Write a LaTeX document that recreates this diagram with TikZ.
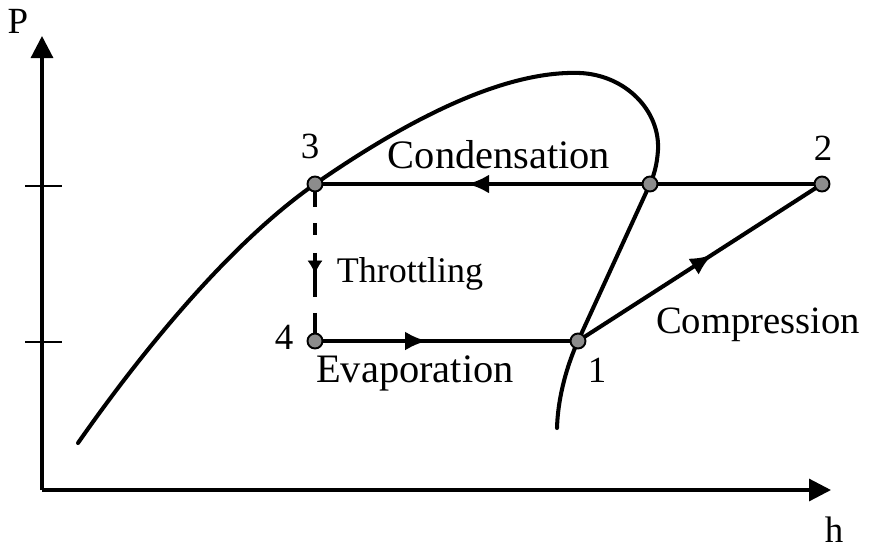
\documentclass[tikz,border=0pt]{standalone}
\usepackage{fontspec}
\setmainfont{Liberation Serif}
\usetikzlibrary{arrows.meta,decorations.markings,backgrounds}
\begin{document}
\begin{tikzpicture}[x=0.02cm,y=-0.02cm,
  curve/.style={line width=2.3pt, line cap=round, line join=round},
  axisline/.style={line width=1.8pt, -{Triangle[length=0.44cm,width=0.44cm]}},
  tickline/.style={line width=1.5pt},
  pt/.style={circle, draw=black, fill=black!45, line width=1.1pt, minimum size=0.3cm, inner sep=0pt},
  lbl/.style={font=\fontsize{21}{25}\selectfont, anchor=base, inner sep=0pt},
  midarrow/.style={postaction={decorate}, decoration={markings, mark=at position #1 with {\arrow{Latex[length=0.44cm,width=0.38cm]}}}},
  smallarrow/.style={postaction={decorate}, decoration={markings, mark=at position #1 with {\arrow{Latex[length=0.26cm,width=0.3cm]}}}}
]
\useasboundingbox (0,0) rectangle (895,555);

% state points
\node[pt] (p3) at (315,184) {};
\node[pt] (psat) at (650,184) {};
\node[pt] (p2) at (822,184) {};
\node[pt] (p4) at (315,341) {};
\node[pt] (p1) at (578,341) {};

% axes
\coordinate (o) at (42,490);
\coordinate (ytop) at (42,36);
\coordinate (xend) at (831,490);
\coordinate (t1a) at (25,186);
\coordinate (t1b) at (62,186);
\coordinate (t2a) at (25,342);
\coordinate (t2b) at (62,342);
\coordinate (domeL) at (78,443);
\coordinate (domeB) at (557,428);

\begin{pgfonlayer}{background}
\draw[axisline] (o) -- (ytop);
\draw[axisline] (o) -- (xend);
\draw[tickline] (t1a) -- (t1b);
\draw[tickline] (t2a) -- (t2b);

% saturation dome
\draw[curve] (domeL) .. controls (150,340) and (235,240) .. (p3.center)
  .. controls (400,125) and (500,70) .. (580,73)
  .. controls (625,75) and (660,110) .. (658,150)
  .. controls (657,165) and (654,175) .. (psat.center)
  -- (p1.center)
  .. controls (568,363) and (558,395) .. (domeB);

% cycle
\draw[curve, midarrow=0.7] (p2.center) -- (p3.center);
\draw[curve, midarrow=0.426] (p4.center) -- (p1.center);
\draw[curve, midarrow=0.55] (p1.center) -- (p2.center);
\draw[line width=2.8pt, dash pattern=on 0.46cm off 0.32cm on 0.24cm off 0.36cm on 0.88cm off 0.32cm on 0.56cm] (p3.center) -- (p4.center);
\path[smallarrow=0.57] (p3.center) -- (p4.center);
\end{pgfonlayer}

% labels
\node[lbl] (lP) at (18,33) {P};
\node[lbl] (lh) at (834,542) {h};
\node[lbl] (l3) at (310,158) {3};
\node[lbl] (l2) at (823,160) {2};
\node[lbl] (l1) at (597,382) {1};
\node[lbl] (l4) at (284,349) {4};
\node[lbl, font=\fontsize{23}{27}\selectfont] (tcond) at (499,168) {Condensation};
\node[lbl, font=\fontsize{20.5}{24}\selectfont] (tthr) at (410,282) {Throttling};
\node[lbl, font=\fontsize{23}{27}\selectfont] (tevap) at (415,382) {Evaporation};
\node[lbl, font=\fontsize{22}{26}\selectfont] (tcomp) at (758,333) {Compression};
\end{tikzpicture}
\end{document}
